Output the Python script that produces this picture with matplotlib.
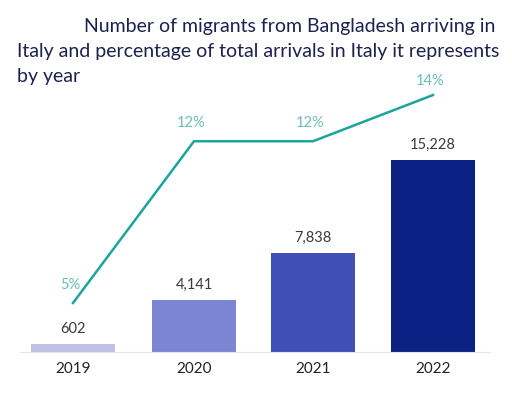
import matplotlib.pyplot as plt

years = ["2019", "2020", "2021", "2022"]
migrants = [602, 4141, 7838, 15228]
share = [5, 12, 12, 14]
bar_colors = ["#c0c1e4", "#7c85d4", "#3e4fb6", "#0b2184"]

plt.rcParams['font.family'] = ['Lato', 'DejaVu Sans']

fig = plt.figure(figsize=(5.12, 3.93), dpi=100)
W, H = 512, 393
# axes: left 20, right 490, bottom 352, top 80 (pixels)
ax = fig.add_axes([20 / W, (H - 352) / H, 470 / W, 272 / H])
x = [73, 194, 313, 433]
ax.set_xlim(20, 490)
ax.bar(x, migrants, width=84, color=bar_colors)
ax.set_ylim(0, 15228 * 272 / 192)
for xi, v in zip(x, migrants):
    ax.annotate(f"{v:,}", (xi, v), xytext=(0, 6), textcoords="offset points",
                ha="center", va="bottom", fontsize=10.5, color="#3a3a3a")

ax.set_xticks(x)
ax.set_xticklabels(years, fontsize=11, color="#222222")
ax.tick_params(axis="x", length=0, pad=7)
ax.set_yticks([])
for s in ["top", "right", "left"]:
    ax.spines[s].set_visible(False)
ax.spines["bottom"].set_color("#e6e6e6")

ax2 = ax.twinx()
ax2.plot(x, share, color="#1ea49a", lw=1.8)
ax2.set_ylim(2.88, 14.65)
for xi, p in zip(x, share):
    off = 5 if p == 14 else 8
    ax2.annotate(f"{p}%", (xi, p), xytext=(-2, off), textcoords="offset points",
                 ha="center", va="bottom", fontsize=10.5, color="#6dbdb6")
ax2.set_yticks([])
for s in ["top", "right", "left", "bottom"]:
    ax2.spines[s].set_visible(False)

tc = "#1c2150"
fig.text(495 / W, 1 - 32 / H, "Number of migrants from Bangladesh arriving in",
         ha="right", va="baseline", fontsize=14, color=tc)
fig.text(17 / W, 1 - 57 / H, "Italy and percentage of total arrivals in Italy it represents",
         ha="left", va="baseline", fontsize=14, color=tc)
fig.text(17 / W, 1 - 82 / H, "by year", ha="left", va="baseline", fontsize=14, color=tc)

fig.savefig("out.png", dpi=100)
